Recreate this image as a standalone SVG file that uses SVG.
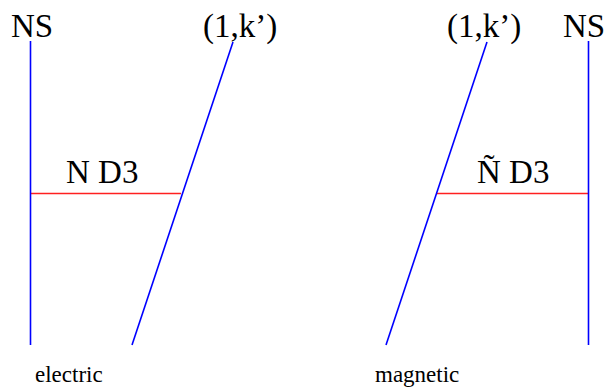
<svg xmlns="http://www.w3.org/2000/svg" width="608" height="389" viewBox="0 0 608 389">
<style>
.t{font-family:"Liberation Serif","Times New Roman",serif;fill:#000}
.big{font-size:33px}
.small{font-size:23px}
.b{stroke:#0000ff;stroke-width:1.6;fill:none}
.r{stroke:#ff2020;stroke-width:1.6;fill:none}
</style>
<rect width="608" height="389" fill="#fff"/>
<g id="connectors">
<line class="r" x1="31" y1="193.5" x2="181" y2="193.5"/>
<line class="r" x1="436" y1="193.5" x2="588.5" y2="193.5"/>
</g>
<g id="ns-left">
<line class="b" x1="30.5" y1="41" x2="30.5" y2="345"/>
<text class="t big" x="11" y="37">NS</text>
</g>
<g id="brane-left">
<line class="b" x1="233" y1="42" x2="132" y2="345"/>
<text class="t big" x="203" y="37">(1,k’)</text>
</g>
<g id="label-nd3">
<text class="t big" x="66" y="183">N D3</text>
</g>
<g id="brane-right">
<line class="b" x1="487" y1="42" x2="386" y2="345"/>
<text class="t big" x="447" y="37">(1,k’)</text>
</g>
<g id="ns-right">
<line class="b" x1="588.5" y1="41" x2="588.5" y2="345"/>
<text class="t big" x="563" y="37">NS</text>
</g>
<g id="label-ntd3">
<text class="t big" x="477" y="183">Ñ D3</text>
</g>
<g id="captions">
<text class="t small" x="35" y="382">electric</text>
<text class="t small" x="375" y="382">magnetic</text>
</g>
</svg>
